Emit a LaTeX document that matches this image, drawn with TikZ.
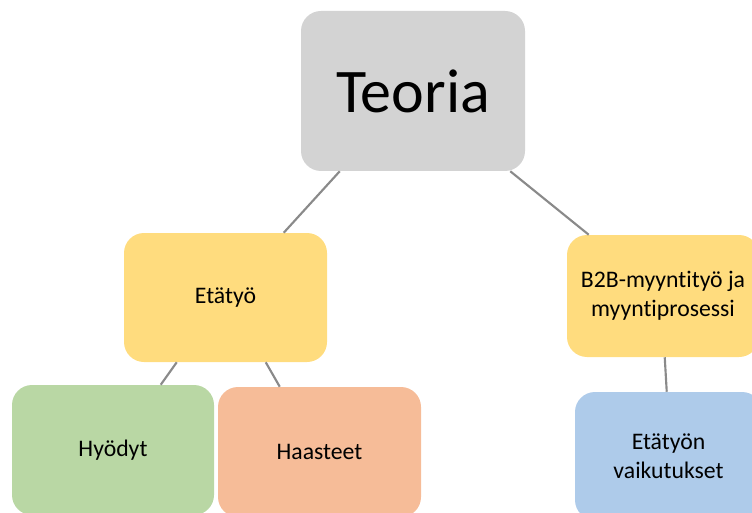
\documentclass[tikz,border=0pt]{standalone}
\usepackage{fontspec}
\setmainfont{Carlito}[Ligatures={NoCommon}]
\usetikzlibrary{calc}

\definecolor{boxgray}{HTML}{D3D3D3}
\definecolor{boxyellow}{HTML}{FFDC7E}
\definecolor{boxgreen}{HTML}{B9D7A4}
\definecolor{boxsalmon}{HTML}{F6BC98}
\definecolor{boxblue}{HTML}{AECBEA}
\definecolor{linkgray}{HTML}{8A8A8A}

\tikzset{
  card/.style 2 args={rectangle, rounded corners=15pt, draw=none, inner sep=0pt,
    align=center, minimum width=#1*0.75pt, minimum height=#2*0.75pt},
  labeltext/.style={font=\fontsize{17.8pt}{21.7pt}\selectfont},
  link/.style={draw=linkgray, line width=1.6pt}
}

\begin{document}
\begin{tikzpicture}[x=0.75pt, y=-0.75pt]
  \useasboundingbox (0,0) rectangle (752,513);
  \clip (0,0) rectangle (752,513);

  % top node
  \node[card={224}{160}, fill=boxgray, font=\fontsize{46.5pt}{56pt}\selectfont]
    (teoria) at (413,91) {Teoria};

  % second level
  \node[card={203}{129}, fill=boxyellow, labeltext] (etatyo) at (225.5,297.5) {Etätyö};
  \node[card={192}{122}, fill=boxyellow, labeltext] (b2b) at (663,296)
    {B2B-myyntityö ja\\myyntiprosessi};

  % third level
  \node[card={202}{130}, fill=boxgreen, labeltext] (hyodyt) at (113,450) {Hyödyt};
  \node[card={203}{130}, fill=boxsalmon, labeltext] (haasteet) at (319.5,452) {Haasteet};
  \node[card={187}{128}, fill=boxblue, labeltext] (etatyon) at (668.5,456)
    {Etätyön\\vaikutukset};

  % connectors
  \draw[link] ($(teoria.south west)+(39,0)$) -- ($(etatyo.north west)+(160,0)$);
  \draw[link] ($(teoria.south east)+(-15,0)$) -- ($(b2b.north west)+(22,0)$);
  \draw[link] ($(etatyo.south west)+(53,0)$) -- ($(hyodyt.north west)+(149,0)$);
  \draw[link] ($(etatyo.south west)+(142,0)$) -- ($(haasteet.north west)+(62,0)$);
  \draw[link] ($(b2b.south west)+(98,0)$) -- ($(etatyon.north west)+(92,0)$);
\end{tikzpicture}
\end{document}
